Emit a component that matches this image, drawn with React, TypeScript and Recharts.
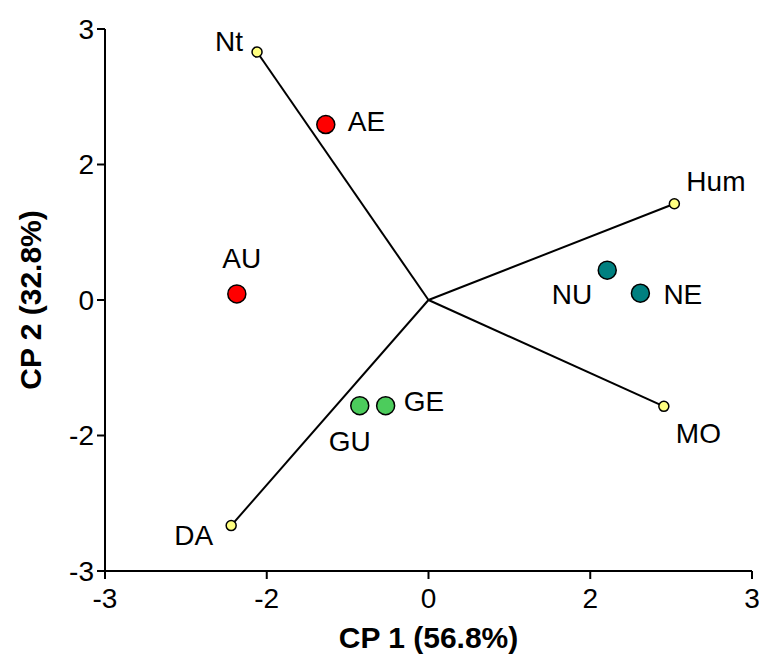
import { ReferenceLine, Scatter, ScatterChart, XAxis, YAxis } from 'recharts'

type Pt = { name: string; x: number; y: number }

// axis positions are linear, labels as printed on the original plot
const axisTicks = [-4, -2, 0, 2, 4]
const axisTickLabels = ['-3', '-2', '0', '2', '3']

const loadings: Pt[] = [
  { name: 'Nt', x: -2.12, y: 3.66 },
  { name: 'Hum', x: 3.04, y: 1.42 },
  { name: 'MO', x: 2.91, y: -1.57 },
  { name: 'DA', x: -2.44, y: -3.33 }
]
const redGroup: Pt[] = [
  { name: 'AE', x: -1.27, y: 2.59 },
  { name: 'AU', x: -2.37, y: 0.09 }
]
const tealGroup: Pt[] = [
  { name: 'NU', x: 2.21, y: 0.44 },
  { name: 'NE', x: 2.62, y: 0.1 }
]
const greenGroup: Pt[] = [
  { name: 'GU', x: -0.85, y: -1.56 },
  { name: 'GE', x: -0.53, y: -1.56 }
]

// label placement relative to each marker: dx, dy (baseline), anchor
const labelPlacement: Record<string, [number, number, 'start' | 'middle' | 'end']> = {
  Nt: [-14, -1, 'end'],
  Hum: [12, -13, 'start'],
  MO: [12, 37, 'start'],
  DA: [-18, 19, 'end'],
  AE: [22, 6, 'start'],
  AU: [5, -26, 'middle'],
  NU: [-15, 34, 'end'],
  NE: [23, 11, 'start'],
  GU: [-10, 45, 'middle'],
  GE: [18, 5, 'start']
}

const FONT = "Arial, 'Liberation Sans', sans-serif"

const fmtTick = (v: number) => axisTickLabels[axisTicks.indexOf(v)] ?? String(v)

function makeShape(fill: string, r: number) {
  return (props: any) => {
    const { cx, cy, payload } = props
    const [dx, dy, anchor] = labelPlacement[payload.name] ?? [10, 0, 'start']
    return (
      <g>
        <circle cx={cx} cy={cy} r={r} fill={fill} stroke="#000" strokeWidth={1.5} />
        <text x={cx + dx} y={cy + dy} textAnchor={anchor} fontSize={28} fontFamily={FONT} fill="#000">
          {payload.name}
        </text>
      </g>
    )
  }
}

function YTitle(props: any) {
  const vb = props.viewBox
  const x = vb.x + 30
  const y = vb.y + vb.height / 2
  return (
    <text
      x={x}
      y={y}
      transform={`rotate(-90 ${x} ${y})`}
      textAnchor="middle"
      dominantBaseline="central"
      fontSize={30}
      fontWeight="bold"
      fontFamily={FONT}
      fill="#000"
    >
      CP 2 (32.8%)
    </text>
  )
}

function XTitle(props: any) {
  const vb = props.viewBox
  return (
    <text
      x={vb.x + vb.width / 2}
      y={vb.y + 66}
      textAnchor="middle"
      dominantBaseline="central"
      fontSize={30}
      fontWeight="bold"
      fontFamily={FONT}
      fill="#000"
    >
      CP 1 (56.8%)
    </text>
  )
}

export default function App() {
  const tickStyle = { fontSize: 28, fontFamily: FONT, fill: '#000' }
  const axisStroke = { stroke: '#000', strokeWidth: 2 }
  return (
    <div style={{ position: 'absolute', left: 0, top: 0, background: '#fff' }}>
      <ScatterChart width={759} height={655} margin={{ top: 29, right: 7, bottom: 0, left: 0 }}>
        <XAxis
          type="number"
          dataKey="x"
          domain={[-4, 4]}
          ticks={axisTicks}
          tickFormatter={fmtTick}
          height={84}
          tick={tickStyle}
          axisLine={axisStroke}
          tickLine={axisStroke}
          tickSize={8}
          tickMargin={9}
          allowDataOverflow
          label={<XTitle />}
        />
        <YAxis
          type="number"
          dataKey="y"
          domain={[-4, 4]}
          ticks={axisTicks}
          tickFormatter={fmtTick}
          width={105}
          tick={tickStyle}
          axisLine={axisStroke}
          tickLine={axisStroke}
          tickSize={8}
          tickMargin={3}
          allowDataOverflow
          label={<YTitle />}
        />
        {loadings.map((p) => (
          <ReferenceLine
            key={p.name}
            segment={[
              { x: 0, y: 0 },
              { x: p.x, y: p.y }
            ]}
            stroke="#000"
            strokeWidth={2}
            ifOverflow="visible"
          />
        ))}
        <Scatter data={loadings} shape={makeShape('#ffff80', 5)} isAnimationActive={false} />
        <Scatter data={redGroup} shape={makeShape('#ff0000', 9)} isAnimationActive={false} />
        <Scatter data={tealGroup} shape={makeShape('#008080', 9)} isAnimationActive={false} />
        <Scatter data={greenGroup} shape={makeShape('#4ccc5c', 9)} isAnimationActive={false} />
      </ScatterChart>
    </div>
  )
}
